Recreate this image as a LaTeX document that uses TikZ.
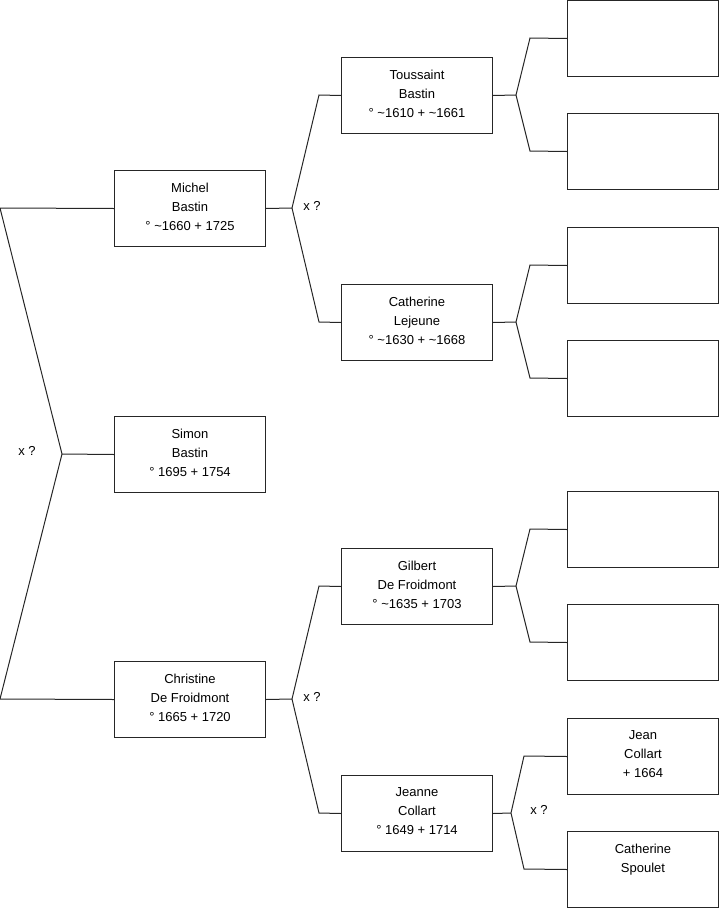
\documentclass[tikz,border=0pt]{standalone}
\usepackage{fontspec}
\setmainfont{Liberation Sans}
\begin{document}
\begin{tikzpicture}[x=1pt,y=-1pt,
  person/.style={draw=black!85, line width=1pt, fill=white, minimum width=151pt, minimum height=76pt,
    inner sep=0pt, align=center, anchor=north west, font=\fontsize{13}{19}\selectfont,
    execute at end node={\rule[-4pt]{0pt}{0pt}}},
  link/.style={draw=black!85, line width=1pt},
  xmark/.style={font=\fontsize{13}{15}\selectfont, inner sep=0pt}]
\useasboundingbox (0,0) rectangle (719,908);
% column 1
\node[person] (michel) at (114,170) {Michel\\Bastin\\° \textasciitilde1660 + 1725};
\node[person] (simon) at (114,416) {Simon\\Bastin\\° 1695 + 1754};
\node[person] (christine) at (114,661) {Christine\\De Froidmont\\° 1665 + 1720};
% column 2
\node[person] (toussaint) at (341,57) {Toussaint\\Bastin\\° \textasciitilde1610 + \textasciitilde1661};
\node[person] (catherinel) at (341,284) {Catherine\\Lejeune\\° \textasciitilde1630 + \textasciitilde1668};
\node[person] (gilbert) at (341,548) {Gilbert\\De Froidmont\\° \textasciitilde1635 + 1703};
\node[person] (jeanne) at (341,775) {Jeanne\\Collart\\° 1649 + 1714};
% column 3
\node[person] (r1) at (567,0) {};
\node[person] (r2) at (567,113) {};
\node[person] (r3) at (567,227) {};
\node[person] (r4) at (567,340) {};
\node[person] (r5) at (567,491) {};
\node[person] (r6) at (567,604) {};
\node[person] (jean) at (567,718) {Jean\\Collart\\+ 1664};
\node[person] (catherines) at (567,831) {Catherine\\Spoulet\\\mbox{}};
% junction coordinates
\coordinate (a0) at (0,208);
\coordinate (j0) at (62,454);
\coordinate (b0) at (0,699);
\coordinate (jm) at (292,208);
\coordinate (jm1) at (319,95);
\coordinate (jm2) at (319,322);
\coordinate (jc) at (292,699);
\coordinate (jc1) at (319,586);
\coordinate (jc2) at (319,813);
\coordinate (jt) at (516,95);
\coordinate (jt1) at (530,38);
\coordinate (jt2) at (530,151);
\coordinate (jl) at (516,322);
\coordinate (jl1) at (530,265);
\coordinate (jl2) at (530,378);
\coordinate (jg) at (516,586);
\coordinate (jg1) at (530,529);
\coordinate (jg2) at (530,642);
\coordinate (jj) at (511,813);
\coordinate (jj1) at (524,756);
\coordinate (jj2) at (524,869);
% connectors
\draw[link] (michel.west) -- (a0) -- (j0) -- (b0) -- (christine.west);
\draw[link] (j0) -- (simon.west);
\draw[link] (michel.east) -- (jm);
\draw[link] (toussaint.west) -- (jm1) -- (jm) -- (jm2) -- (catherinel.west);
\draw[link] (christine.east) -- (jc);
\draw[link] (gilbert.west) -- (jc1) -- (jc) -- (jc2) -- (jeanne.west);
\draw[link] (toussaint.east) -- (jt);
\draw[link] (r1.west) -- (jt1) -- (jt) -- (jt2) -- (r2.west);
\draw[link] (catherinel.east) -- (jl);
\draw[link] (r3.west) -- (jl1) -- (jl) -- (jl2) -- (r4.west);
\draw[link] (gilbert.east) -- (jg);
\draw[link] (r5.west) -- (jg1) -- (jg) -- (jg2) -- (r6.west);
\draw[link] (jeanne.east) -- (jj);
\draw[link] (jean.west) -- (jj1) -- (jj) -- (jj2) -- (catherines.west);
% marriage marks
\node[xmark] (x0) at (27,451) {x ?};
\node[xmark] (xm) at (312,206) {x ?};
\node[xmark] (xc) at (312,697) {x ?};
\node[xmark] (xj) at (539,810) {x ?};
\end{tikzpicture}
\end{document}
